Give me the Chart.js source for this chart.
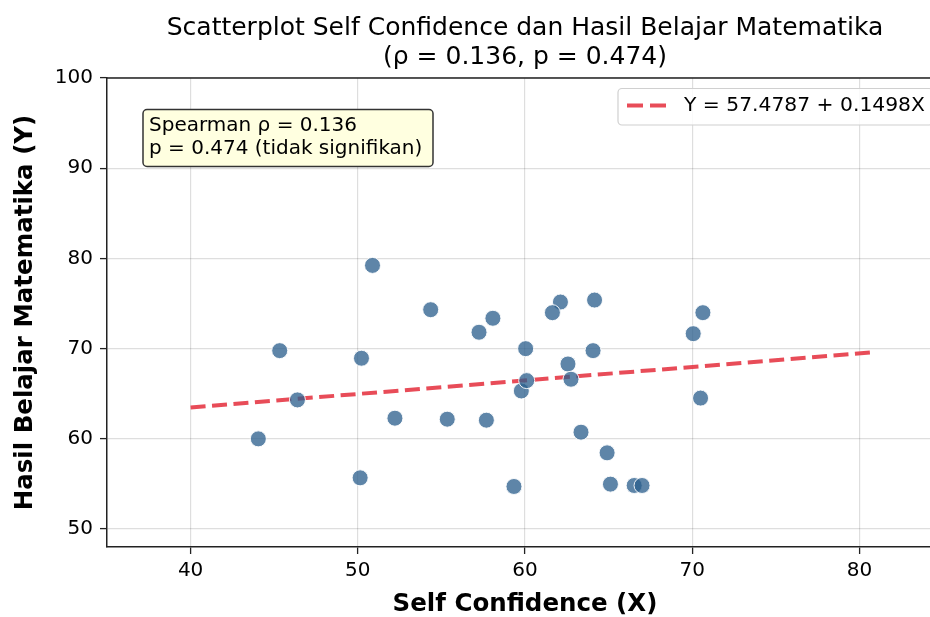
<!DOCTYPE html>
<html>
<head>
<meta charset="utf-8">
<script src="https://cdn.jsdelivr.net/npm/chart.js@4"></script>
<style>
  html, body { margin: 0; padding: 0; background: #fff; overflow: hidden; }
  #wrap { width: 960px; height: 617px; }
</style>
</head>
<body>
<div id="wrap"><canvas id="grafico" width="960" height="617"></canvas></div>
<script>
// Dados
const selfConfidence = [50.88, 54.36, 58.08, 57.25, 45.33, 50.22, 46.39, 52.22, 55.35, 57.69,
                        44.05, 50.14, 59.34, 59.78, 62.12, 61.64, 64.16, 70.64, 70.06, 60.04,
                        64.07, 62.57, 60.10, 62.75, 70.50, 63.35, 64.91, 65.11, 66.53, 67.00];
const hasilBelajar = [79.22, 74.31, 73.36, 71.81, 69.77, 68.93, 64.31, 62.28, 62.17, 62.06,
                      59.99, 55.67, 54.71, 65.30, 75.16, 73.98, 75.38, 73.98, 71.65, 69.99,
                      69.77, 68.29, 66.45, 66.60, 64.51, 60.73, 58.44, 54.97, 54.82, 54.82];
const regX = [40, 81];
const regY = [63.47, 69.61];
const xTicks = [40, 50, 60, 70, 80];
const yTicks = [50, 60, 70, 80, 90, 100];

const judul = ["Scatterplot Self Confidence dan Hasil Belajar Matematika", "(ρ = 0.136, p = 0.474)"];
const labelRegresi = "Y = 57.4787 + 0.1498X";
const teksAnotasi = ["Spearman ρ = 0.136", "p = 0.474 (tidak signifikan)"];

const FONT = "'DejaVu Sans', sans-serif";
const COR_LINHA = "rgba(230,57,70,0.9)";

// Título, moldura, anotação e legenda desenhados à mão
const extras = {
    id: "extras",
    afterDraw(chart) {
        const ctx = chart.ctx;
        const area = chart.chartArea;
        ctx.save();

        // moldura superior
        ctx.strokeStyle = "#222";
        ctx.lineWidth = 1.5;
        ctx.beginPath();
        ctx.moveTo(area.left, area.top);
        ctx.lineTo(area.right, area.top);
        ctx.stroke();

        // título
        ctx.fillStyle = "#000";
        ctx.font = "25px " + FONT;
        ctx.textAlign = "center";
        ctx.textBaseline = "middle";
        const cx = (area.left + area.right) / 2;
        ctx.fillText(judul[0], cx, 28);
        ctx.fillText(judul[1], cx, 57);

        // caixa de anotação
        ctx.beginPath();
        ctx.roundRect(143, 109.5, 290, 57, 4);
        ctx.fillStyle = "#ffffe0";
        ctx.fill();
        ctx.strokeStyle = "#333";
        ctx.lineWidth = 1.5;
        ctx.stroke();
        ctx.fillStyle = "#000";
        ctx.font = "20px " + FONT;
        ctx.textAlign = "left";
        ctx.fillText(teksAnotasi[0], 149, 126);
        ctx.fillText(teksAnotasi[1], 149, 149);

        // legenda
        const lx = 618, ly = 88.5, lw = area.right - 10 - 618, lh = 36.5;
        ctx.beginPath();
        ctx.roundRect(lx, ly, lw, lh, 4);
        ctx.fillStyle = "rgba(255,255,255,0.85)";
        ctx.fill();
        ctx.strokeStyle = "#d0d0d0";
        ctx.lineWidth = 1.2;
        ctx.stroke();
        ctx.strokeStyle = COR_LINHA;
        ctx.lineWidth = 4;
        ctx.setLineDash([16, 7]);
        ctx.beginPath();
        ctx.moveTo(627, 105.5);
        ctx.lineTo(667, 105.5);
        ctx.stroke();
        ctx.setLineDash([]);
        ctx.fillStyle = "#000";
        ctx.font = "20.3px " + FONT;
        ctx.fillText(labelRegresi, 684, 106);

        ctx.restore();
    }
};

const ctx = document.getElementById("grafico").getContext("2d");
window.grafico = new Chart(ctx, {
    type: "scatter",
    data: {
        datasets: [
            {
                label: "Data",
                data: selfConfidence.map((x, i) => ({ x: x, y: hasilBelajar[i] })),
                backgroundColor: "rgba(44,95,140,0.76)",
                borderColor: "rgba(255,255,255,0.9)",
                borderWidth: 1,
                pointRadius: 8,
                pointHoverRadius: 8
            },
            {
                label: labelRegresi,
                type: "line",
                data: regX.map((x, i) => ({ x: x, y: regY[i] })),
                borderColor: COR_LINHA,
                borderWidth: 4,
                borderDash: [15, 6.5],
                pointRadius: 0,
                fill: false
            }
        ]
    },
    options: {
        responsive: false,
        animation: false,
        layout: { padding: { top: 78, right: 17, left: 0, bottom: 0 } },
        plugins: {
            legend: { display: false },
            title: { display: false },
            tooltip: { enabled: false }
        },
        scales: {
            x: {
                type: "linear",
                min: 35,
                max: 85,
                afterFit(scale) { scale.height = 70; },
                afterBuildTicks(scale) { scale.ticks = xTicks.map(v => ({ value: v })); },
                ticks: { color: "#000", font: { family: FONT, size: 20 }, padding: 5 },
                grid: { color: "rgba(0,0,0,0.13)", lineWidth: 1.2, tickLength: 7, tickColor: "#222", tickWidth: 1.3 },
                border: { display: true, color: "#222", width: 1.5 },
                title: {
                    display: true,
                    text: "Self Confidence (X)",
                    color: "#000",
                    font: { family: FONT, size: 24.5, weight: "bold", lineHeight: 1 },
                    padding: { top: 0, bottom: 0 }
                }
            },
            y: {
                type: "linear",
                min: 48,
                max: 100,
                afterFit(scale) { scale.width = 107; },
                afterBuildTicks(scale) { scale.ticks = yTicks.map(v => ({ value: v })); },
                ticks: { color: "#000", font: { family: FONT, size: 20 }, padding: 7 },
                grid: { color: "rgba(0,0,0,0.13)", lineWidth: 1.2, tickLength: 7, tickColor: "#222", tickWidth: 1.3 },
                border: { display: true, color: "#222", width: 1.5 },
                title: {
                    display: true,
                    text: "Hasil Belajar Matematika (Y)",
                    color: "#000",
                    font: { family: FONT, size: 24.5, weight: "bold", lineHeight: 1 },
                    padding: { top: 13, bottom: 0 }
                }
            }
        }
    },
    plugins: [extras]
});
</script>
</body>
</html>
